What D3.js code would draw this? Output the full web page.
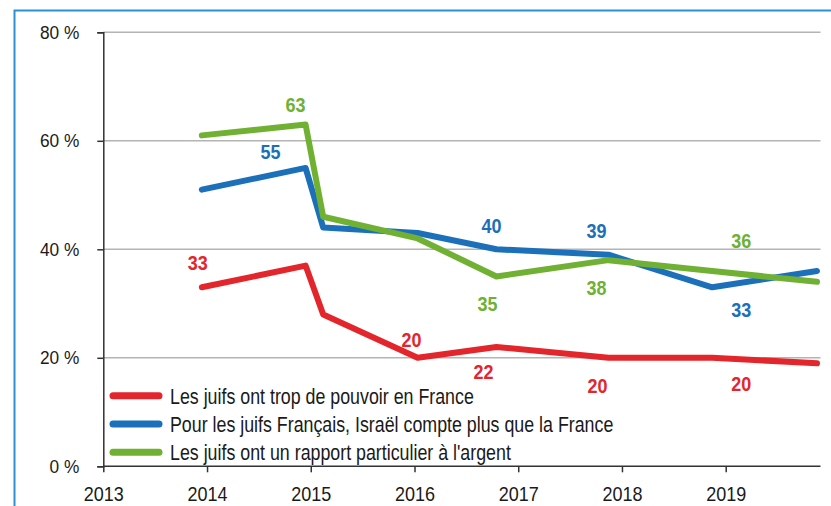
<!DOCTYPE html>
<html>
<head>
<meta charset="utf-8">
<script src="https://cdn.jsdelivr.net/npm/d3@7"></script>
<style>
  body{margin:0;background:#fff;}
  svg{display:block;font-family:"Liberation Sans",Arial,sans-serif;}
</style>
</head>
<body>
<div id="chart"></div>
<script>
const width=831;
const height=506;

// survey dates (decimal years) and values in %
const dates=[2013.95,2014.95,2015.12,2016.03,2016.79,2017.87,2018.87,2019.88];
const pouvoir=[33,37,28,20,22,20,20,19];
const israel=[51,55,44,43,40,39,33,36];
const argent=[61,63,46,42,35,38,36,34];
const seriesNames=[
  "Les juifs ont trop de pouvoir en France",
  "Pour les juifs Français, Israël compte plus que la France",
  "Les juifs ont un rapport particulier à l'argent"
];
const colors=["#e3262b","#1b70b9","#70b133"];
const yTicks=[0,20,40,60,80];
const xTicks=[2013,2014,2015,2016,2017,2018,2019];

const series=[pouvoir,israel,argent];

const svg=d3.select("#chart")
          .append("svg")
          .attr("width",width)
          .attr("height",height);

//blue frame around the chart
svg.append("rect")
   .attr("x",14.5).attr("y",10.5)
   .attr("width",840).attr("height",520)
   .attr("fill","none")
   .attr("stroke","#2b8fd6")
   .attr("stroke-width",2);

const x=d3.scaleLinear().domain([2013,2019]).range([103.3,725.7]);
const y=d3.scaleLinear().domain([0,80]).range([466.3,32.3]);
const xEnd=820.5;

//the original uses a condensed font, squeeze Liberation Sans horizontally
function squeeze(sel,s){
  sel.each(function(){
    const t=d3.select(this);
    const tx=+t.attr("x")||0, ty=+t.attr("y")||0;
    t.attr("x",0).attr("y",0)
     .attr("transform",`translate(${tx},${ty}) scale(${s},1)`);
  });
}

//grid lines
svg.append("g")
   .selectAll("line")
   .data(yTicks.filter(d=>d>0))
   .enter()
   .append("line")
   .attr("x1",x(2013)).attr("x2",xEnd)
   .attr("y1",d=>y(d)).attr("y2",d=>y(d))
   .attr("stroke","#b4b4b4")
   .attr("stroke-width",1.5);

//y axis
const yAxis=svg.append("g")
   .attr("transform",`translate(${x(2013)},0)`)
   .call(d3.axisLeft(y).tickValues(yTicks).tickSize(6).tickPadding(18).tickFormat(d=>d+" %"));
yAxis.select(".domain").attr("stroke","#333").attr("stroke-width",1.5);
yAxis.selectAll(".tick line").attr("stroke","#333").attr("stroke-width",1.5);
yAxis.selectAll("text").attr("font-size",18).attr("fill","#1a1a1a").attr("font-family",null).call(squeeze,0.96);

//x axis
const xAxis=svg.append("g")
   .attr("transform",`translate(0,${y(0)})`)
   .call(d3.axisBottom(x).tickValues(xTicks).tickSize(6).tickPadding(14).tickFormat(d3.format("d")));
xAxis.select(".domain").attr("d",`M${x(2013)},0H${xEnd}`).attr("stroke","#333").attr("stroke-width",1.5);
xAxis.selectAll(".tick line").attr("stroke","#333").attr("stroke-width",1.5);
xAxis.selectAll("text").attr("font-size",20).attr("fill","#1a1a1a").attr("font-family",null).call(squeeze,0.9);

//lines
const line=d3.line().x((d,i)=>x(dates[i])).y(d=>y(d));
svg.append("g")
   .selectAll("path")
   .data(series)
   .enter()
   .append("path")
   .attr("d",line)
   .attr("fill","none")
   .attr("stroke",(d,i)=>colors[i])
   .attr("stroke-width",6)
   .attr("stroke-linecap","round")
   .attr("stroke-linejoin","round");

//value labels: [series, point, dx, dy]
const labelSpots=[
  [0,0,-4,-24],[0,3,-6,-18],[0,4,-13,25],[0,5,-11,28],[0,6,29,26],
  [1,1,-35,-16],[1,4,-5,-24],[1,5,-12,-24],[1,6,29,23],
  [2,1,-10,-20],[2,4,-9,27],[2,5,-12,28],[2,6,29,-30]
];
svg.append("g")
   .selectAll("text")
   .data(labelSpots)
   .enter()
   .append("text")
   .attr("x",d=>x(dates[d[1]])+d[2])
   .attr("y",d=>y(series[d[0]][d[1]])+d[3])
   .attr("dy","0.36em")
   .attr("text-anchor","middle")
   .attr("font-size",20)
   .attr("font-weight","bold")
   .attr("fill",d=>colors[d[0]])
   .text(d=>series[d[0]][d[1]])
   .call(squeeze,0.9);

//legend
const legend=svg.append("g")
   .selectAll("g")
   .data(seriesNames)
   .enter()
   .append("g")
   .attr("transform",(d,i)=>`translate(0,${395.7+i*28.3})`);
legend.append("line")
   .attr("x1",113).attr("x2",159)
   .attr("stroke",(d,i)=>colors[i])
   .attr("stroke-width",7)
   .attr("stroke-linecap","round");
legend.append("text")
   .attr("x",170)
   .attr("dy","0.36em")
   .attr("font-size",22)
   .attr("fill","#1a1a1a")
   .text(d=>d)
   .call(squeeze,0.81);
</script>
</body>
</html>
